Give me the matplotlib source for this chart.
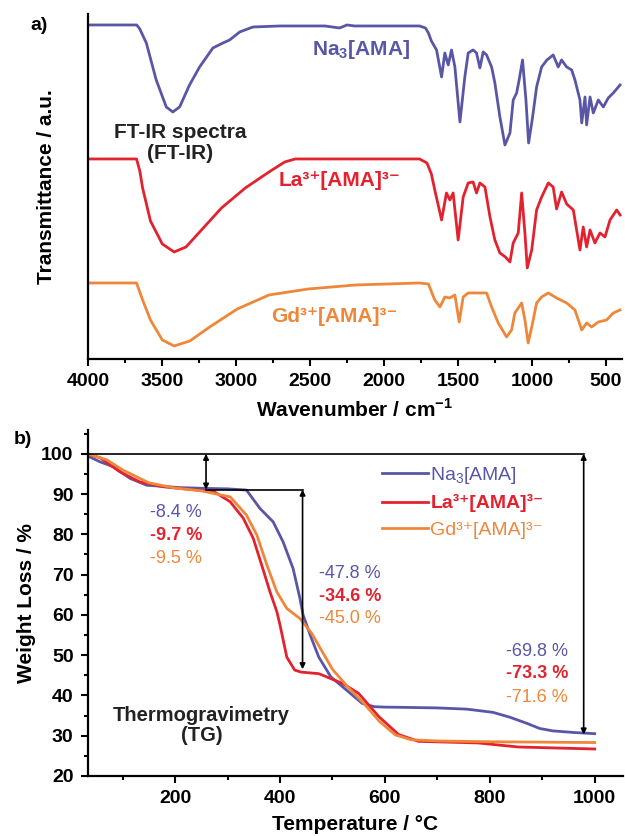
import matplotlib
matplotlib.use("Agg")
import matplotlib.pyplot as plt
from matplotlib.ticker import MultipleLocator

plt.rcParams['font.family'] = ['Liberation Sans', 'DejaVu Sans']
plt.rcParams['mathtext.fontset'] = 'custom'
plt.rcParams['mathtext.rm'] = 'Liberation Sans'
plt.rcParams['mathtext.bf'] = 'Liberation Sans:bold'
plt.rcParams['axes.linewidth'] = 1.6

# colours of the three compounds
c_na = '#5a56a6'
c_la = '#e3222f'
c_gd = '#ef873a'

# ---- FT-IR spectra (wavenumber / cm-1, transmittance in a.u.) ----
na_wn = [4000, 3671, 3650, 3606, 3539, 3471, 3427, 3381, 3314, 3246, 3156, 3088, 3043, 2975, 2885,
         2700, 2400, 2300, 2250, 2200, 2000, 1760, 1720, 1700, 1680, 1645, 1611, 1589, 1566, 1544,
         1521, 1487, 1454, 1431, 1398, 1375, 1352, 1330, 1307, 1273, 1251, 1217, 1183, 1149, 1127,
         1104, 1087, 1064, 1041, 1023, 996, 969, 935, 899, 857, 823, 800, 766, 732, 710, 676, 664,
         642, 631, 608, 586, 552, 518, 485, 451, 405]
na_tr = [334, 334, 330, 316, 279, 252, 247, 252, 274, 292, 311, 316, 319, 327, 332,
         333, 333, 331, 334, 333, 333, 333, 331, 326, 318, 309, 282, 306, 294, 309,
         292, 237, 282, 306, 309, 306, 291, 307, 304, 292, 276, 242, 214, 226, 259,
         266, 279, 299, 259, 216, 242, 272, 292, 299, 304, 292, 299, 292, 289, 279, 259, 236,
         262, 234, 262, 246, 259, 252, 261, 266, 274]

la_wn = [4000, 3672, 3650, 3631, 3578, 3498, 3418, 3338, 3258, 3098, 2937, 2777, 2671, 2600, 2000,
         1760, 1710, 1680, 1657, 1611, 1578, 1555, 1533, 1499, 1465, 1431, 1398, 1375, 1352, 1318,
         1284, 1251, 1217, 1180, 1149, 1127, 1093, 1070, 1048, 1032, 1002, 969, 935, 890, 857, 834,
         800, 766, 721, 676, 654, 631, 608, 575, 541, 507, 473, 428, 405]
la_tr = [200, 200, 188, 171, 138, 115, 107, 112, 125, 151, 171, 187, 197, 200, 200,
         200, 196, 185, 169, 139, 166, 159, 166, 119, 162, 176, 177, 166, 176, 172,
         142, 119, 106, 102, 97, 116, 126, 166, 126, 91, 109, 149, 162, 176, 172, 150,
         167, 155, 149, 109, 132, 112, 129, 116, 126, 122, 139, 149, 144]

gd_wn = [4000, 3672, 3631, 3578, 3498, 3418, 3312, 3178, 2991, 2777, 2511, 2191, 1763, 1700, 1657,
         1622, 1589, 1555, 1521, 1492, 1465, 1431, 1375, 1307, 1273, 1228, 1172, 1138, 1116, 1070,
         1048, 1026, 996, 969, 935, 890, 834, 766, 710, 664, 631, 597, 552, 496, 451, 405]
gd_tr = [76, 76, 59, 39, 19, 13, 18, 32, 50, 64, 70, 74, 76, 75, 59,
         52, 62, 61, 64, 37, 62, 66, 66, 66, 52, 36, 22, 29, 46, 56,
         39, 16, 36, 56, 62, 66, 61, 56, 49, 29, 36, 32, 37, 39, 46, 49]

# ---- TG curves (temperature / degC, weight / %) ----
na_t = [33, 57, 82, 114, 146, 210, 260, 300, 336, 362, 387, 406, 425, 438, 444, 459, 474, 497,
        527, 557, 580, 600, 630, 700, 756, 806, 838, 870, 895, 920, 960, 1000]
na_w = [99.5, 98, 96.8, 93.9, 92.2, 91.6, 91.4, 91.3, 91, 86.4, 83.1, 78.1, 71.5, 64.1, 60, 54.5,
        49.5, 44.6, 41.3, 38, 37.2, 37.1, 37.05, 36.9, 36.6, 35.8, 34.6, 33.1, 31.8, 31.2, 30.8, 30.5]

la_t = [33, 57, 95, 133, 178, 241, 273, 305, 330, 349, 365, 381, 394, 400, 413, 428, 440, 474,
        519, 550, 588, 626, 664, 778, 854, 1000]
la_w = [100, 99, 95.5, 93, 91.8, 91, 90.7, 88.1, 84, 79, 72.4, 65.7, 60.8, 57.5, 49.5, 46.3, 45.8,
        45.4, 43, 40.5, 34.8, 30.3, 28.6, 28.2, 27.2, 26.7]

gd_t = [33, 70, 100, 150, 200, 250, 305, 336, 356, 375, 394, 413, 438, 460, 480, 500, 530, 560,
        590, 620, 650, 700, 800, 900, 1000]
gd_w = [100, 98.5, 96, 92.8, 91.5, 90.8, 89.3, 84.8, 79.8, 72.4, 65.7, 61.6, 59.1, 55.5, 51, 46.5,
        42, 38, 33.5, 30.2, 29, 28.7, 28.5, 28.4, 28.3]

# names and weight loss steps written on the plots
names = ['Na$_3$[AMA]', 'La³⁺[AMA]³⁻', 'Gd³⁺[AMA]³⁻']
step1 = ['-8.4 %', '-9.7 %', '-9.5 %']
step2 = ['-47.8 %', '-34.6 %', '-45.0 %']
step3 = ['-69.8 %', '-73.3 %', '-71.6 %']

fig = plt.figure(figsize=(6.25, 8.36), dpi=100)
ax1 = fig.add_axes([0.1408, 0.5706, 0.8544, 0.4127])
ax2 = fig.add_axes([0.14, 0.0718, 0.856, 0.4138])

# a) FT-IR
ax1.plot(na_wn, na_tr, color=c_na, lw=2.0)
ax1.plot(la_wn, la_tr, color=c_la, lw=2.0)
ax1.plot(gd_wn, gd_tr, color=c_gd, lw=2.0)
ax1.set_xlim(4000, 392)
ax1.set_ylim(0, 345)
ax1.spines['top'].set_visible(False)
ax1.spines['right'].set_visible(False)
ax1.set_yticks([])
ax1.xaxis.set_major_locator(MultipleLocator(500))
ax1.xaxis.set_minor_locator(MultipleLocator(250))
ax1.tick_params(axis='x', which='major', length=5, width=1.5, pad=5, labelsize=14)
ax1.tick_params(axis='x', which='minor', length=3, width=1.5)
for lab in ax1.get_xticklabels():
    lab.set_fontweight('bold')
ax1.set_xlabel('Wavenumber / cm$^{\\mathbf{-1}}$', fontsize=15, fontweight='bold')
ax1.xaxis.set_label_coords(0.5, -0.115)
ax1.set_ylabel('Transmittance / a.u.', fontsize=15, fontweight='bold')
ax1.yaxis.set_label_coords(-0.06, 0.5)

ax1.text(2157, 309, 'Na$_\\mathbf{3}$[AMA]', color=c_na, fontsize=15, fontweight='bold',
         ha='center', va='center')
ax1.text(2299, 178, names[1], color=c_la, fontsize=15, fontweight='bold', ha='center', va='center')
ax1.text(2333, 42, names[2], color=c_gd, fontsize=15, fontweight='bold', ha='center', va='center')
ax1.text(3380, 216, 'FT-IR spectra\n(FT-IR)', color='#222222', fontsize=15, fontweight='bold',
         ha='center', va='center', linespacing=1.15)

# b) TG
ax2.plot(na_t, na_w, color=c_na, lw=2.0, label=names[0])
ax2.plot(la_t, la_w, color=c_la, lw=2.0, label=names[1])
ax2.plot(gd_t, gd_w, color=c_gd, lw=2.0, label=names[2])
ax2.set_xlim(33, 1053)
ax2.set_ylim(20, 105.9)
ax2.spines['top'].set_visible(False)
ax2.spines['right'].set_visible(False)
ax2.xaxis.set_major_locator(MultipleLocator(200))
ax2.xaxis.set_minor_locator(MultipleLocator(100))
ax2.set_yticks(range(20, 101, 10))
ax2.yaxis.set_minor_locator(MultipleLocator(5))
ax2.tick_params(which='major', length=5, width=1.5, pad=5, labelsize=14)
ax2.tick_params(which='minor', length=3, width=1.5)
for lab in ax2.get_xticklabels() + ax2.get_yticklabels():
    lab.set_fontweight('bold')
ax2.set_xlabel('Temperature / °C', fontsize=15, fontweight='bold')
ax2.xaxis.set_label_coords(0.5, -0.112)
ax2.set_ylabel('Weight Loss / %', fontsize=15, fontweight='bold')
ax2.yaxis.set_label_coords(-0.097, 0.5)

# guide lines and double arrows
ax2.plot([33, 979], [100, 100], color='k', lw=1.2)
ax2.plot([259, 443], [91.1, 91.1], color='k', lw=1.2)
arr = dict(arrowstyle='<|-|>', color='k', lw=1.2, mutation_scale=8, shrinkA=0, shrinkB=0)
ax2.annotate('', xy=(259, 100), xytext=(259, 91.1), arrowprops=arr)
ax2.annotate('', xy=(443, 91.1), xytext=(443, 46.5), arrowprops=arr)
ax2.annotate('', xy=(979, 100), xytext=(979, 30.3), arrowprops=arr)

cols = [c_na, c_la, c_gd]
ys1 = [85.5, 79.8, 74.0]
ys2 = [70.3, 64.5, 59.1]
ys3 = [50.8, 45.5, 39.5]
for i in range(3):
    fw = 'bold' if i == 1 else 'normal'
    ax2.text(202, ys1[i], step1[i], color=cols[i], fontsize=13, fontweight=fw, ha='center', va='center')
    ax2.text(475, ys2[i], step2[i], color=cols[i], fontsize=13, fontweight=fw, ha='left', va='center')
    ax2.text(949, ys3[i], step3[i], color=cols[i], fontsize=13, fontweight=fw, ha='right', va='center')

ax2.text(250, 32.5, 'Thermogravimetry\n(TG)', color='#222222', fontsize=14.5, fontweight='bold',
         ha='center', va='center', linespacing=1.05)

leg = ax2.legend(loc='upper left', bbox_to_anchor=(0.55, 0.9), frameon=False, fontsize=14,
                 handlelength=2.4, handletextpad=0.1, labelspacing=0.45, borderpad=0,
                 borderaxespad=0, labelcolor='linecolor')
leg.get_texts()[1].set_fontweight('bold')

fig.text(0.0624, 0.970, 'a)', fontsize=14, fontweight='bold', ha='center', va='center')
fig.text(0.0368, 0.4737, 'b)', fontsize=14, fontweight='bold', ha='center', va='center')

fig.savefig('out.png', dpi=100, facecolor='white')
